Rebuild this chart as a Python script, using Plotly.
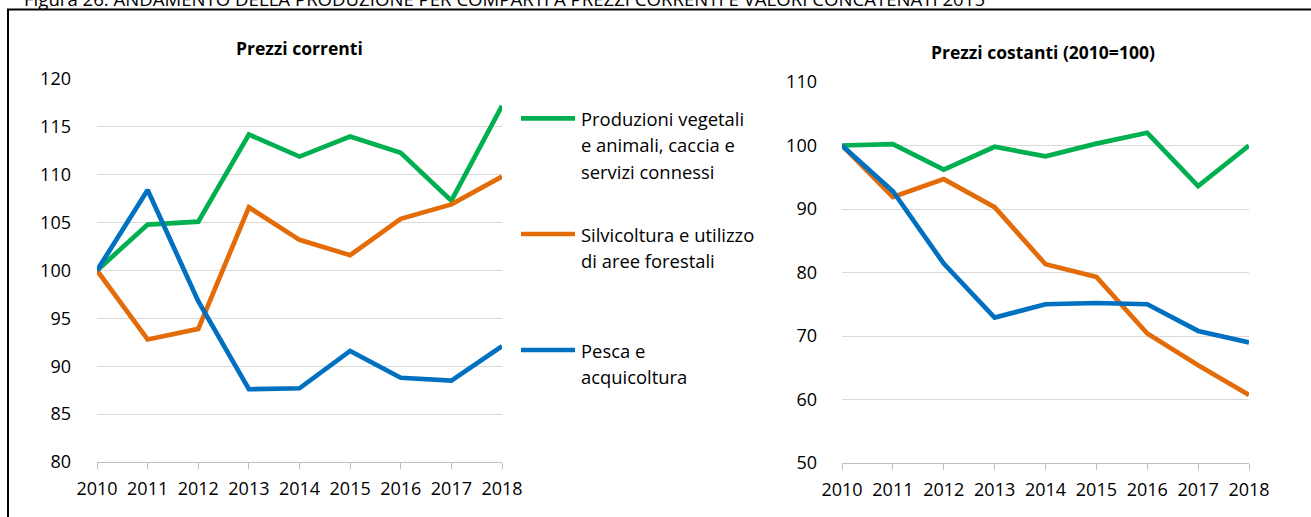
import plotly.graph_objects as go

W, H = 1311, 517

years = [2010, 2011, 2012, 2013, 2014, 2015, 2016, 2017, 2018]
year_labels = [str(y) for y in years]

series_names = [
    ["Produzioni vegetali", "e animali, caccia e", "servizi connessi"],
    ["Silvicoltura e utilizzo", "di aree forestali"],
    ["Pesca e", "acquicoltura"],
]
series_colors = ["#00B050", "#E36C09", "#0070C0"]

# Prezzi correnti
correnti_vegetali = [100, 104.8, 105.1, 114.2, 111.9, 114.0, 112.3, 107.3, 117.2]
correnti_silvicoltura = [100, 92.8, 93.9, 106.6, 103.2, 101.6, 105.4, 106.9, 109.8]
correnti_pesca = [100, 108.4, 96.8, 87.6, 87.7, 91.6, 88.8, 88.5, 92.1]

# Prezzi costanti (2010=100)
costanti_vegetali = [100, 100.2, 96.2, 99.8, 98.3, 100.3, 102.0, 93.6, 100.0]
costanti_silvicoltura = [100, 91.9, 94.7, 90.3, 81.3, 79.3, 70.4, 65.4, 60.7]
costanti_pesca = [100, 92.8, 81.4, 72.9, 75.0, 75.2, 75.0, 70.8, 69.0]

left_ticks = [80, 85, 90, 95, 100, 105, 110, 115, 120]
right_ticks = [50, 60, 70, 80, 90, 100, 110]

FONT = "Open Sans"
TXT = "#000000"
GRID = "#D9D9D9"
AXL = "#BFBFBF"
LW = 4.7


def px_x(p):
    return p / W


def px_y(p):
    return 1 - p / H


fig = go.Figure()

left_series = [correnti_vegetali, correnti_silvicoltura, correnti_pesca]
right_series = [costanti_vegetali, costanti_silvicoltura, costanti_pesca]

for vals, col, nm in zip(left_series, series_colors, series_names):
    fig.add_trace(go.Scatter(x=years, y=vals, mode="lines", name=" ".join(nm),
                             line=dict(color=col, width=LW), xaxis="x", yaxis="y",
                             showlegend=False))
for vals, col, nm in zip(right_series, series_colors, series_names):
    fig.add_trace(go.Scatter(x=years, y=vals, mode="lines", name=" ".join(nm),
                             line=dict(color=col, width=LW), xaxis="x2", yaxis="y2",
                             showlegend=False))

# domains from pixel layout
L_x = [px_x(97), px_x(502)]
L_y = [px_y(462), px_y(79)]
R_x = [px_x(842), px_x(1249)]
R_y = [px_y(463), px_y(82)]

xcommon = dict(range=[2010, 2018], tickmode="array", tickvals=years, ticktext=year_labels,
               showgrid=False, showline=True, linecolor=AXL, linewidth=1.3,
               ticks="outside", ticklen=6, tickcolor=AXL, tickwidth=1.3,
               tickfont=dict(family=FONT, size=18, color=TXT), zeroline=False,
               ticklabelstandoff=4, automargin=False)
ycommon = dict(showgrid=True, gridcolor=GRID, gridwidth=1.3, showline=False, ticks="",
               tickfont=dict(family=FONT, size=18, color=TXT), zeroline=False,
               tickmode="array", automargin=False)
xinner = dict(range=[2010, 2018], tickmode="array", tickvals=years, showticklabels=False,
              showgrid=False, showline=False, ticks="inside", ticklen=6, tickcolor=AXL,
              tickwidth=1.3, side="bottom", zeroline=False, automargin=False)

fig.update_layout(
    template="none",
    width=W, height=H,
    margin=dict(l=0, r=0, t=0, b=0, pad=0, autoexpand=False),
    paper_bgcolor="white", plot_bgcolor="white",
    showlegend=False,
    xaxis=dict(domain=L_x, anchor="y", **xcommon),
    yaxis=dict(domain=L_y, anchor="x", range=[80, 120], tickvals=left_ticks,
               ticklabelstandoff=25, **ycommon),
    xaxis2=dict(domain=R_x, anchor="y2", **xcommon),
    yaxis2=dict(domain=R_y, anchor="x2", range=[50, 110], tickvals=right_ticks,
                ticklabelstandoff=24, **ycommon),
    xaxis3=dict(overlaying="x", anchor="y", **xinner),
    xaxis4=dict(overlaying="x2", anchor="y2", **xinner),
)

annotations = []
shapes = []

# frame
shapes.append(dict(type="rect", xref="paper", yref="paper",
                   x0=px_x(8), x1=px_x(1330), y0=px_y(540), y1=px_y(9.5),
                   line=dict(color="black", width=2), fillcolor="rgba(0,0,0,0)", layer="above"))

# caption (partially cut at top, as in the reference)
annotations.append(dict(text="Figura 26: ANDAMENTO DELLA PRODUZIONE PER COMPARTI A PREZZI CORRENTI E VALORI CONCATENATI 2015",
                        xref="paper", yref="paper", x=px_x(22), y=px_y(-1.5),
                        xanchor="left", yanchor="middle", showarrow=False,
                        font=dict(family=FONT, size=18.6, color=TXT)))

# subplot titles
annotations.append(dict(text="<b>Prezzi correnti</b>", xref="paper", yref="paper",
                        x=px_x(299), y=px_y(48), xanchor="center", yanchor="middle",
                        showarrow=False, font=dict(family=FONT, size=17.5, color=TXT)))
annotations.append(dict(text="<b>Prezzi costanti (2010=100)</b>", xref="paper", yref="paper",
                        x=px_x(1043), y=px_y(52), xanchor="center", yanchor="middle",
                        showarrow=False, font=dict(family=FONT, size=17.5, color=TXT)))

# legend
legend_top = [118.3, 234, 350]
line_gap = 26.7
for nm, col, ytop in zip(series_names, series_colors, legend_top):
    shapes.append(dict(type="line", xref="paper", yref="paper",
                       x0=px_x(521), x1=px_x(575), y0=px_y(ytop), y1=px_y(ytop),
                       line=dict(color=col, width=LW)))
    for i, ln in enumerate(nm):
        annotations.append(dict(text=ln, xref="paper", yref="paper",
                                x=px_x(579), y=px_y(ytop + i * line_gap),
                                xanchor="left", yanchor="middle", showarrow=False,
                                font=dict(family=FONT, size=18.4, color=TXT)))

fig.update_layout(annotations=annotations, shapes=shapes)

fig.write_html("out.html",
               config={"displayModeBar": False},
               post_script="document.body.style.margin='0px';document.body.style.overflow='hidden';")
